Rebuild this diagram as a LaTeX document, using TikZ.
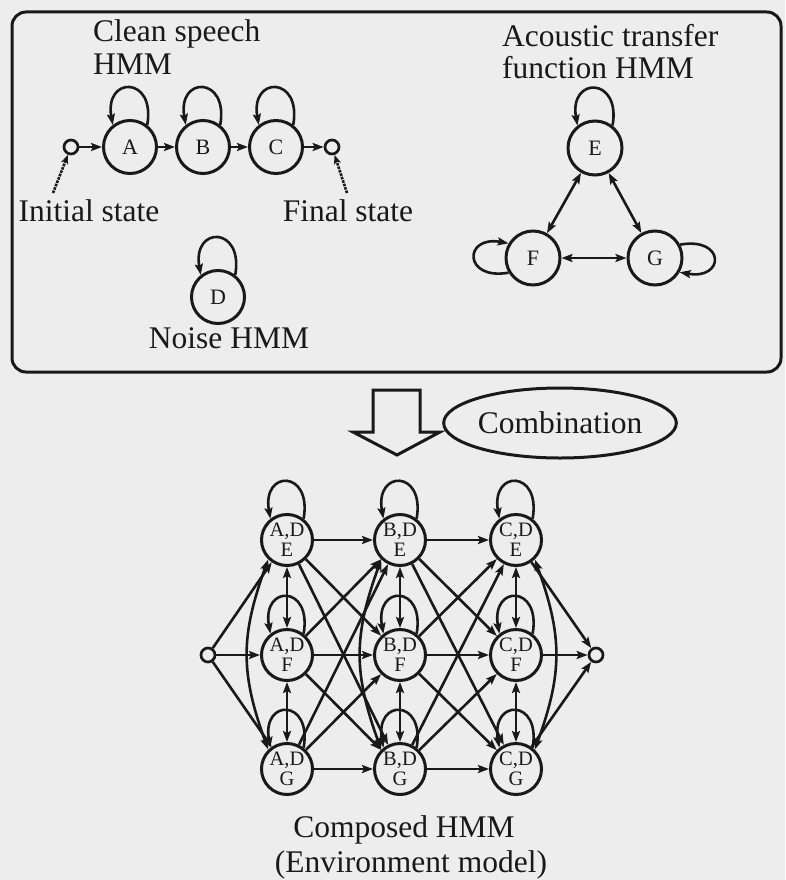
\documentclass[tikz,border=0pt]{standalone}
\usepackage{fontspec}
\setmainfont{Liberation Serif}
\usetikzlibrary{arrows.meta,shapes.geometric}
\definecolor{paper}{gray}{0.93}
\definecolor{ink}{gray}{0.1}
% self transition drawn above a state
\newcommand{\hmmloop}[1]{\draw[edge] (#1.52) to[out=80,in=100,distance=50pt] (#1.128);}
\begin{document}
\begin{tikzpicture}[x=1pt,y=1pt,
  state/.style={circle, draw=ink, line width=3pt, minimum size=53pt, inner sep=0pt,
    text=ink, font=\fontsize{22}{24}\selectfont},
  pair/.style={circle, draw=ink, line width=3pt, minimum size=51pt, inner sep=0pt,
    align=center, text=ink, font=\fontsize{20.5}{20}\selectfont},
  term/.style={circle, draw=ink, line width=2.7pt, minimum size=14pt, inner sep=0pt},
  caption/.style={font=\fontsize{31.5}{33}\selectfont, inner sep=0pt, text=ink},
  edge/.style={draw=ink, line width=2.6pt, -{Stealth[length=11pt,width=8pt,inset=2pt]}},
  both/.style={draw=ink, line width=2.6pt,
    {Stealth[length=11pt,width=8pt,inset=2pt]}-{Stealth[length=11pt,width=8pt,inset=2pt]}},
  pointer/.style={draw=ink, line width=2.6pt, densely dotted,
    -{Stealth[length=9pt,width=7pt,inset=2pt]}},
]
% page and frame
\fill[paper] (0,0) rectangle (785,-880);
\useasboundingbox (0,0) rectangle (785,-880);
\draw[ink, line width=3pt, rounded corners=14pt] (12,-12) rectangle (781,-372);

% ---- clean speech HMM ----
\node[caption, anchor=base west] (cst1) at (93,-42) {Clean speech};
\node[caption, anchor=base west] (cst2) at (93,-75) {HMM};
\node[state] (A) at (130,-147) {A};
\node[state] (B) at (203,-147) {B};
\node[state] (C) at (276,-147) {C};
\node[term] (s0) at (71,-147) {};
\node[term] (s1) at (332,-147) {};
\draw[edge] (s0) -- (A);
\draw[edge] (A) -- (B);
\draw[edge] (B) -- (C);
\draw[edge] (C) -- (s1);
\foreach \n in {A,B,C} {\hmmloop{\n}}
\node[caption, anchor=base] (il) at (89,-221) {Initial state};
\node[caption, anchor=base] (fl) at (348,-221) {Final state};
\coordinate (ip) at (53,-193);
\coordinate (fp) at (347,-193);
\draw[pointer] (ip) -- (s0);
\draw[pointer] (fp) -- (s1);

% ---- noise HMM ----
\node[state] (D) at (218,-297) {D};
\hmmloop{D}
\node[caption, anchor=base] (nl) at (229,-348) {Noise HMM};

% ---- acoustic transfer function HMM ----
\node[caption, anchor=base west] (at1) at (502,-47) {Acoustic transfer};
\node[caption, anchor=base west] (at2) at (502,-79) {function HMM};
\node[state, minimum size=54pt] (E) at (595,-148) {E};
\node[state, minimum size=54pt] (F) at (533,-258) {F};
\node[state, minimum size=54pt] (G) at (655,-258) {G};
\hmmloop{E}
\draw[edge] (F.211) to[out=190,in=170,distance=46pt] (F.149);
\draw[edge] (G.28) to[out=10,in=-10,distance=46pt] (G.-30);
\draw[both] (E) -- (F);
\draw[both] (E) -- (G);
\draw[both] (F) -- (G);

% ---- combination step ----
\draw[ink, line width=3pt, fill=paper, line join=miter]
  (373,-390) -- (420,-390) -- (420,-432) -- (440,-432) -- (397,-455)
  -- (353,-432) -- (373,-432) -- cycle;
\node[ellipse, draw=ink, line width=3pt, minimum width=206pt, minimum height=70pt,
  inner sep=0pt, caption] (comb) at (560,-423) {Combination};

% ---- composed HMM ----
\foreach \c/\x in {A/287,B/400,C/516}
  \foreach \r/\y in {E/540,F/655,G/769}
    \node[pair] (\c\r) at (\x,-\y) {\c,D\\\r};
\node[term] (ci) at (208,-655) {};
\node[term] (cf) at (596,-655) {};

\foreach \c in {A,B,C} {
  \foreach \r in {E,F,G} {\hmmloop{\c\r}}
  \draw[both] (\c E) -- (\c F);
  \draw[both] (\c F) -- (\c G);
}
\draw[both] (AE.226) to[out=250,in=110,looseness=1.1] (AG.134);
\draw[both] (BE.226) to[out=250,in=110,looseness=1.1] (BG.134);
\draw[both] (CE.-46) to[out=-70,in=70,looseness=1.1] (CG.46);

\foreach \r in {E,F,G} {
  \draw[edge] (ci) -- (A\r);
  \draw[edge] (C\r) -- (cf);
  \foreach \t in {E,F,G} {
    \draw[edge] (A\r) -- (B\t);
    \draw[edge] (B\r) -- (C\t);
  }
}

\node[caption, anchor=base] (ct1) at (404,-837) {Composed HMM};
\node[caption, anchor=base] (ct2) at (411,-872) {(Environment model)};
\end{tikzpicture}
\end{document}
